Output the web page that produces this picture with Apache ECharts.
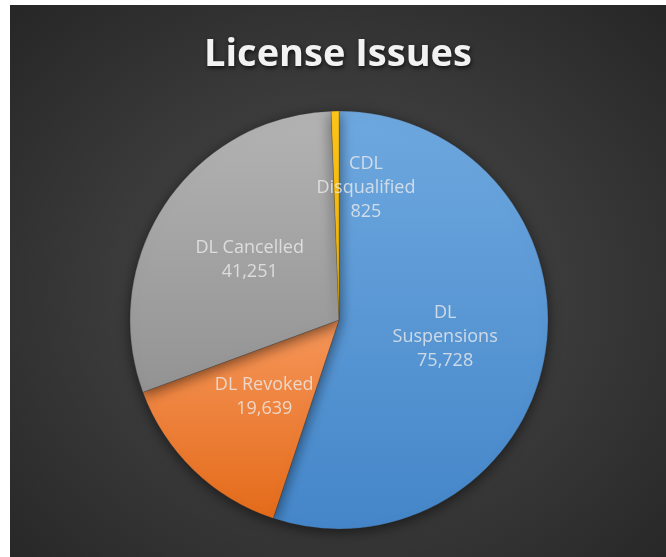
<!DOCTYPE html>
<html>
<head>
<meta charset="utf-8">
<script src="https://cdn.jsdelivr.net/npm/echarts@6/dist/echarts.min.js"></script>
<style>
  html, body { margin: 0; padding: 0; background: #fff; }
  #chart {
    position: absolute; left: 10px; top: 5px; width: 656px; height: 552px;
    background: radial-gradient(ellipse at 50% 52%, #4e4e4e 0%, #3c3c3c 45%, #262626 100%);
  }
</style>
</head>
<body>
<div id="chart"></div>
<script>
// chart data
var sliceNames = ['DL\nSuspensions', 'DL Revoked', 'DL Cancelled', 'CDL\nDisqualified'];
var sliceValues = [75728, 19639, 41251, 825];
var sliceTop = ['#6ea8df', '#f6965a', '#b3b3b3', '#ffc61a'];
var sliceBottom = ['#4486c9', '#e46b1a', '#939393', '#f2b300'];

var myChart = echarts.init(document.getElementById('chart'));

var pieData = sliceNames.map(function (name, i) {
    return {
        name: name,
        value: sliceValues[i],
        itemStyle: {
            color: new echarts.graphic.LinearGradient(0, 0, 0, 1, [
                { offset: 0, color: sliceTop[i] },
                { offset: 1, color: sliceBottom[i] }
            ])
        }
    };
});

var option = {
    animation: false,
    title: {
        text: 'License Issues',
        left: 'center',
        top: 26,
        textStyle: {
            color: '#f2f2f2',
            fontFamily: 'Open Sans',
            fontWeight: 'bold',
            fontSize: 38,
            textShadowColor: 'rgba(0,0,0,0.7)',
            textShadowBlur: 4,
            textShadowOffsetX: 1,
            textShadowOffsetY: 2
        }
    },
    series: [
        {
            type: 'pie',
            center: [329, 315],
            radius: [0, 209],
            startAngle: 90,
            clockwise: true,
            avoidLabelOverlap: false,
            itemStyle: {
                borderColor: 'rgba(60,60,60,0.5)',
                borderWidth: 0.5,
                shadowBlur: 14,
                shadowColor: 'rgba(0,0,0,0.55)',
                shadowOffsetY: 3
            },
            label: {
                show: true,
                position: 'inside',
                color: 'rgba(235,235,235,0.8)',
                fontFamily: 'Open Sans',
                fontSize: 18,
                lineHeight: 24,
                formatter: function (p) {
                    return p.name + '\n' + p.value.toLocaleString('en-US');
                }
            },
            labelLine: { show: false },
            labelLayout: function (p) {
                // CDL slice is too thin, its label sits off to the right
                if (p.dataIndex === 3) {
                    return { dx: 29, dy: -25 };
                }
                return {};
            },
            emphasis: { disabled: true },
            data: pieData
        }
    ]
};

myChart.setOption(option);
</script>
</body>
</html>
